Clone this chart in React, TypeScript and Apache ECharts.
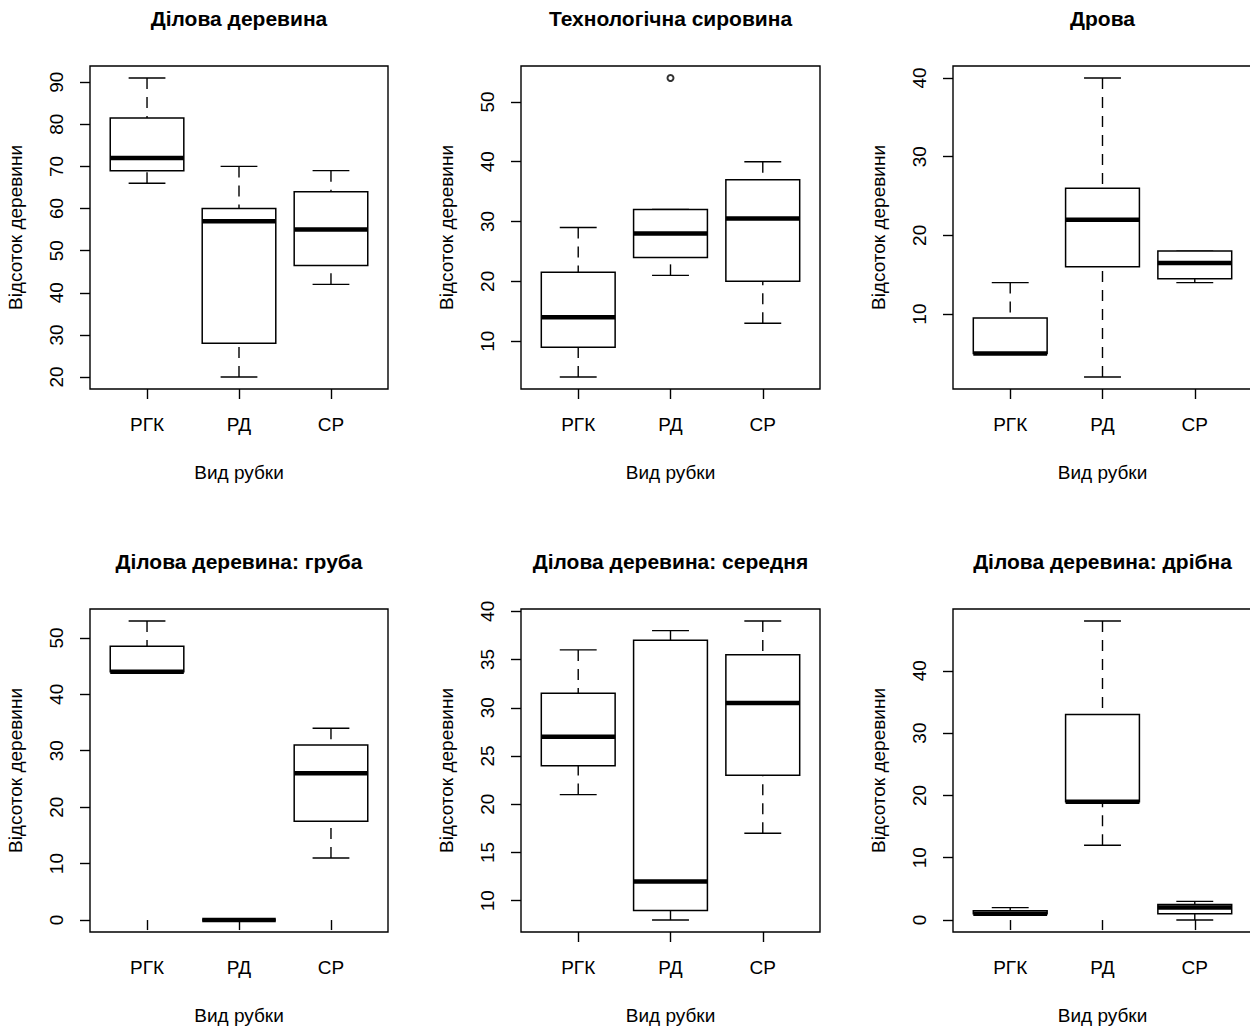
import React, { useEffect, useRef } from "react";
import * as echarts from "echarts";

const categories = ["РГК", "РД", "СР"];

const panelTitles = [
  "Ділова деревина",
  "Технологічна сировина",
  "Дрова",
  "Ділова деревина: груба",
  "Ділова деревина: середня",
  "Ділова деревина: дрібна",
];

// [min, q1, median, q3, max] for РГК, РД, СР
const dilova = [
  [66, 69, 72, 81.5, 91],
  [20, 28, 57, 60, 70],
  [42, 46.5, 55, 64, 69],
];
const tekhnolohichna = [
  [4, 9, 14, 21.5, 29],
  [21, 24, 28, 32, 32],
  [13, 20, 30.5, 37, 40],
];
const tekhnolohichnaOutliers = [[2, 54]];
const drova = [
  [5, 5, 5, 9.5, 14],
  [2, 16, 22, 26, 40],
  [14, 14.5, 16.5, 18, 18],
];
const hruba = [
  [44, 44, 44, 48.5, 53],
  [0, 0, 0, 0, 0],
  [11, 17.5, 26, 31, 34],
];
const serednia = [
  [21, 24, 27, 31.5, 36],
  [8, 9, 12, 37, 38],
  [17, 23, 30.5, 35.5, 39],
];
const dribna = [
  [1, 1, 1, 1.5, 2],
  [12, 19, 19, 33, 48],
  [0, 1, 2, 2.5, 3],
];

const ticks1 = [20, 30, 40, 50, 60, 70, 80, 90];
const ticks2 = [10, 20, 30, 40, 50];
const ticks3 = [10, 20, 30, 40];
const ticks4 = [0, 10, 20, 30, 40, 50];
const ticks5 = [10, 15, 20, 25, 30, 35, 40];
const ticks6 = [0, 10, 20, 30, 40];

const panelStats = [dilova, tekhnolohichna, drova, hruba, serednia, dribna];
const panelOutliers = [[], tekhnolohichnaOutliers, [], [], [], []];
const panelTicks = [ticks1, ticks2, ticks3, ticks4, ticks5, ticks6];

const FONT = "'Liberation Sans', Arial, sans-serif";
const colLeft = [90, 521, 953];
const colWidth = [298, 299, 299];
const rowTop = [66, 609];
const gridH = 323;

function renderBox(params: any, api: any) {
  const x = api.value(0);
  const lo = api.value(1);
  const q1 = api.value(2);
  const med = api.value(3);
  const q3 = api.value(4);
  const hi = api.value(5);
  const hw = 0.4;
  const cw = 0.2;
  const c = (xx: number, yy: number) => api.coord([xx, yy]);
  const tl = c(x - hw, q3);
  const br = c(x + hw, q1);
  const dash = { stroke: "#000", lineWidth: 1.4, lineDash: [11, 8] };
  const solid = { stroke: "#000", lineWidth: 1.4 };
  const up0 = c(x, hi), up1 = c(x, q3);
  const dn0 = c(x, lo), dn1 = c(x, q1);
  const capU0 = c(x - cw, hi), capU1 = c(x + cw, hi);
  const capD0 = c(x - cw, lo), capD1 = c(x + cw, lo);
  const m0 = c(x - hw, med), m1 = c(x + hw, med);
  return {
    type: "group",
    children: [
      { type: "line", shape: { x1: up0[0], y1: up0[1], x2: up1[0], y2: up1[1] }, style: dash },
      { type: "line", shape: { x1: dn0[0], y1: dn0[1], x2: dn1[0], y2: dn1[1] }, style: dash },
      { type: "line", shape: { x1: capU0[0], y1: capU0[1], x2: capU1[0], y2: capU1[1] }, style: solid },
      { type: "line", shape: { x1: capD0[0], y1: capD0[1], x2: capD1[0], y2: capD1[1] }, style: solid },
      {
        type: "rect",
        shape: { x: tl[0], y: tl[1], width: br[0] - tl[0], height: br[1] - tl[1] },
        style: { fill: "#fff", stroke: "#000", lineWidth: 1.5 },
      },
      { type: "line", shape: { x1: m0[0], y1: m0[1], x2: m1[0], y2: m1[1] }, style: { stroke: "#000", lineWidth: 4.5 } },
    ],
  };
}

export default function App() {
  const ref = useRef<HTMLDivElement>(null);
  useEffect(() => {
    if (!ref.current) return;
    const chart = echarts.init(ref.current, null, { renderer: "svg" });
    const grids: any[] = [];
    const xAxes: any[] = [];
    const yAxes: any[] = [];
    const series: any[] = [];
    const graphics: any[] = [];
    for (let i = 0; i < 6; i++) {
      const col = i % 3;
      const row = Math.floor(i / 3);
      const left = colLeft[col];
      const gridW = colWidth[col];
      const top = rowTop[row];
      grids.push({
        left,
        top,
        width: gridW,
        height: gridH,
        show: true,
        borderColor: "#000",
        borderWidth: 1.4,
        backgroundColor: "transparent",
        containLabel: false,
        outerBoundsMode: "none",
      });
      const stats = panelStats[i];
      const outs = panelOutliers[i];
      let lo = Infinity;
      let hi = -Infinity;
      stats.forEach((s) => {
        lo = Math.min(lo, s[0]);
        hi = Math.max(hi, s[4]);
      });
      outs.forEach((o) => {
        lo = Math.min(lo, o[1]);
        hi = Math.max(hi, o[1]);
      });
      const ext = (hi - lo) * 0.04;
      xAxes.push({
        type: "value",
        gridIndex: i,
        min: 0.38,
        max: 3.62,
        axisLine: { show: false },
        splitLine: { show: false },
        axisTick: { show: true, customValues: [1, 2, 3], length: 10, lineStyle: { color: "#000", width: 1.4 } },
        axisLabel: {
          customValues: [1, 2, 3],
          formatter: (v: number) => categories[Math.round(v) - 1] || "",
          color: "#000",
          fontSize: 19,
          fontFamily: FONT,
          margin: 26,
        },
        name: "Вид рубки",
        nameLocation: "middle",
        nameGap: 74,
        nameTextStyle: { color: "#000", fontSize: 19, fontFamily: FONT },
      });
      yAxes.push({
        type: "value",
        gridIndex: i,
        min: lo - ext,
        max: hi + ext,
        axisLine: { show: false },
        splitLine: { show: false },
        axisTick: { show: true, customValues: panelTicks[i], length: 10, lineStyle: { color: "#000", width: 1.4 } },
        axisLabel: {
          customValues: panelTicks[i],
          rotate: 90,
          color: "#000",
          fontSize: 19,
          fontFamily: FONT,
          margin: 24,
        },
        name: "Відсоток деревини",
        nameLocation: "middle",
        nameRotate: 90,
        nameGap: 65,
        nameTextStyle: { color: "#000", fontSize: 19, fontFamily: FONT },
      });
      series.push({
        type: "custom",
        xAxisIndex: i,
        yAxisIndex: i,
        renderItem: renderBox,
        encode: { x: 0, y: [1, 2, 3, 4, 5] },
        data: stats.map((s, k) => [k + 1, ...s]),
        clip: false,
      });
      if (outs.length) {
        series.push({
          type: "scatter",
          xAxisIndex: i,
          yAxisIndex: i,
          symbol: "emptyCircle",
          symbolSize: 6,
          z: 5,
          itemStyle: { color: "#000", borderColor: "#000", borderWidth: 1.3 },
          data: outs,
        });
      }
      graphics.push({
        type: "text",
        x: left + gridW / 2,
        y: row === 0 ? 18 : 561,
        style: {
          text: panelTitles[i],
          fill: "#000",
          font: `bold 21px ${FONT}`,
          textAlign: "center",
          textVerticalAlign: "middle",
        },
      });
    }
    chart.setOption({
      animation: false,
      backgroundColor: "#fff",
      grid: grids,
      xAxis: xAxes,
      yAxis: yAxes,
      series,
      graphic: graphics,
    });
    return () => chart.dispose();
  }, []);
  return (
    <div
      ref={ref}
      style={{ position: "absolute", left: 0, top: 0, width: 1250, height: 1028, background: "#fff" }}
    />
  );
}
